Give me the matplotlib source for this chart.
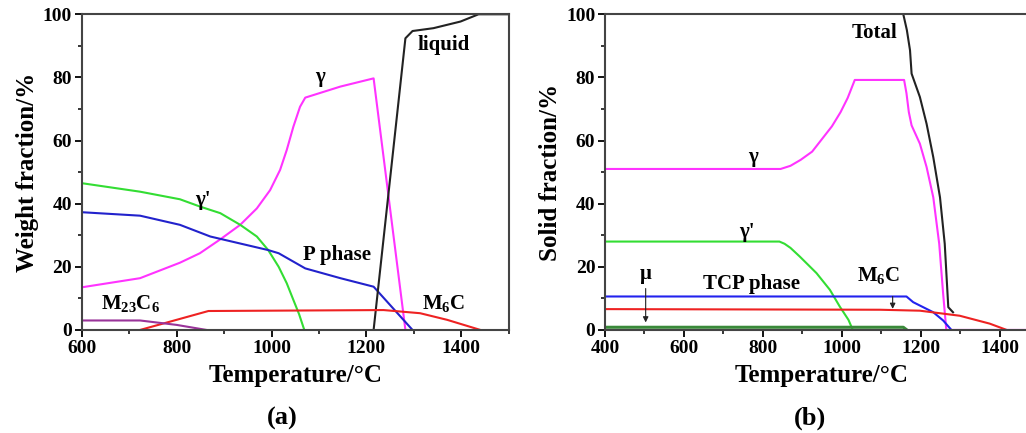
import matplotlib
matplotlib.use("Agg")
import matplotlib.pyplot as plt
from matplotlib.ticker import MultipleLocator

plt.rcParams['font.family'] = ['Liberation Serif', 'DejaVu Serif']
plt.rcParams['font.weight'] = 'bold'
plt.rcParams['axes.labelweight'] = 'bold'
plt.rcParams['mathtext.fontset'] = 'custom'
plt.rcParams['mathtext.rm'] = 'Liberation Serif:bold'
plt.rcParams['mathtext.it'] = 'Liberation Serif:bold'
plt.rcParams['mathtext.bf'] = 'Liberation Serif:bold'

# ---- panel (a): weight fraction ----
gam_a_T = [600, 723, 807, 849, 892, 934, 969, 997, 1018, 1032, 1046, 1060, 1071, 1145, 1215, 1282]
gam_a_v = [13.5, 16.4, 21.3, 24.3, 28.7, 33.3, 38.5, 44.3, 50.7, 57, 64.4, 70.7, 73.6, 77.1, 79.7, 0]
gp_a_T = [600, 723, 807, 849, 892, 934, 969, 993, 1015, 1032, 1046, 1058, 1069]
gp_a_v = [46.5, 43.8, 41.4, 39.1, 37, 33.3, 29.6, 25.3, 20, 14.8, 9.5, 5, 0]
p_a_T = [600, 723, 807, 871, 993, 1015, 1071, 1145, 1215, 1297]
p_a_v = [37.3, 36.2, 33.3, 29.6, 25.3, 24.3, 19.5, 16.4, 13.7, 0]
liq_a_T = [1215, 1282, 1297, 1341, 1398, 1436, 1500]
liq_a_v = [0, 92.4, 94.7, 95.6, 97.7, 100, 100]
m6c_a_T = [723, 867, 1236, 1313, 1370, 1440]
m6c_a_v = [0, 6.0, 6.3, 5.3, 3.2, 0]
m23_a_T = [600, 723, 800, 863]
m23_a_v = [3.0, 3.0, 1.6, 0]

# ---- panel (b): solid fraction ----
gam_b_T = [400, 845, 870, 896, 925, 950, 975, 997, 1015, 1033, 1158, 1164, 1170, 1177,
           1198, 1215, 1232, 1247, 1257, 1265, 1500]
gam_b_v = [51, 51, 52, 53.9, 56.5, 60.5, 64.5, 69, 73.5, 79.2, 79.2, 75, 69, 64.8,
           59, 51.6, 42, 27.3, 11.4, 0, 0]
tot_b_T = [1156, 1165, 1173, 1177, 1198, 1215, 1232, 1249, 1261, 1270, 1282]
tot_b_v = [100, 95, 88.6, 81.2, 73.8, 65.3, 54.7, 42, 27.3, 7.2, 5.6]
gp_b_T = [400, 842, 855, 870, 894, 936, 970, 995, 1017, 1028, 1072]
gp_b_v = [28, 28, 27.3, 26, 23.2, 18, 12.7, 7.4, 3.2, 0, 0]
tcp_b_T = [400, 1164, 1181, 1232, 1257, 1278]
tcp_b_v = [10.6, 10.6, 8.8, 5.6, 3, 0]
m6c_b_T = [400, 1097, 1198, 1299, 1375, 1418]
m6c_b_v = [6.6, 6.4, 6.1, 4.5, 2, 0]
mu_b_T = [400, 1156, 1165]
mu_b_v = [0.85, 0.85, 0]

fig = plt.figure(figsize=(10.26, 4.33), dpi=100)
ax1 = fig.add_axes([0.0796, 0.238, 0.4164, 0.729])
ax2 = fig.add_axes([0.5897, 0.238, 0.4230, 0.729])

lw = 1.5
ax1.plot(gam_a_T, gam_a_v, color='#ff33ff', lw=lw)
ax1.plot(gp_a_T, gp_a_v, color='#33dd33', lw=lw)
ax1.plot(p_a_T, p_a_v, color='#2222cc', lw=lw)
ax1.plot(liq_a_T, liq_a_v, color='#222222', lw=lw)
ax1.plot(m6c_a_T, m6c_a_v, color='#ee2222', lw=lw)
ax1.plot(m23_a_T, m23_a_v, color='#993399', lw=lw)

ax2.plot(gam_b_T, gam_b_v, color='#ff33ff', lw=lw)
ax2.plot(tot_b_T, tot_b_v, color='#222222', lw=lw)
ax2.plot(gp_b_T, gp_b_v, color='#33dd33', lw=lw)
ax2.plot(tcp_b_T, tcp_b_v, color='#2222ee', lw=lw)
ax2.plot(m6c_b_T, m6c_b_v, color='#ee2222', lw=lw)
ax2.plot(mu_b_T, mu_b_v, color='#3a8a3a', lw=2.2)

for ax, xl, ylab in [(ax1, (600, 1500), 'Weight fraction/%'),
                     (ax2, (400, 1500), 'Solid fraction/%')]:
    ax.set_xlim(*xl)
    ax.set_ylim(0, 100)
    ax.xaxis.set_major_locator(MultipleLocator(200))
    ax.xaxis.set_minor_locator(MultipleLocator(100))
    ax.yaxis.set_major_locator(MultipleLocator(20))
    ax.yaxis.set_minor_locator(MultipleLocator(10))
    ax.tick_params(which='major', direction='out', length=5, width=1.3, labelsize=14, pad=2)
    ax.tick_params(which='minor', direction='out', length=3, width=1.1)
    for s in ax.spines.values():
        s.set_linewidth(1.5)
        s.set_color('#444444')
    ax.set_xlabel('Temperature/\u00b0C', fontsize=18, labelpad=5)
    ax.set_ylabel(ylab, fontsize=18, labelpad=3)

fs = 15
ax1.text(1102, 77, '\u03b3', fontsize=fs, ha='center', va='bottom')
ax1.text(856, 38, "\u03b3'", fontsize=fs, ha='center', va='bottom')
ax1.text(1138, 20.5, 'P phase', fontsize=fs, ha='center', va='bottom')
ax1.text(1362, 87, 'liquid', fontsize=fs, ha='center', va='bottom')
ax1.text(702, 5, r'M$_{23}$C$_{6}$', fontsize=fs, ha='center', va='bottom')
ax1.text(1362, 5, r'M$_{6}$C', fontsize=fs, ha='center', va='bottom')

ax2.text(1084, 91, 'Total', fontsize=fs, ha='center', va='bottom')
ax2.text(776, 51.5, '\u03b3', fontsize=fs, ha='center', va='bottom')
ax2.text(759, 28, "\u03b3'", fontsize=fs, ha='center', va='bottom')
ax2.text(772, 11.5, 'TCP phase', fontsize=fs, ha='center', va='bottom')
ax2.text(503, 14.5, '\u03bc', fontsize=fs, ha='center', va='bottom')
ax2.text(1093, 14, r'M$_{6}$C', fontsize=fs, ha='center', va='bottom')
ax2.annotate('', xy=(503, 1.5), xytext=(503, 14),
             arrowprops=dict(arrowstyle='-|>', color='#222222', lw=0.8, mutation_scale=8))
ax2.annotate('', xy=(1129, 5.8), xytext=(1129, 11.5),
             arrowprops=dict(arrowstyle='-|>', color='#222222', lw=0.8, mutation_scale=8))

fig.text(282 / 1026, 1 - 418 / 433, '(a)', fontsize=19, ha='center', va='center')
fig.text(810 / 1026, 1 - 418 / 433, '(b)', fontsize=19, ha='center', va='center')

fig.savefig('out.png', dpi=100)
